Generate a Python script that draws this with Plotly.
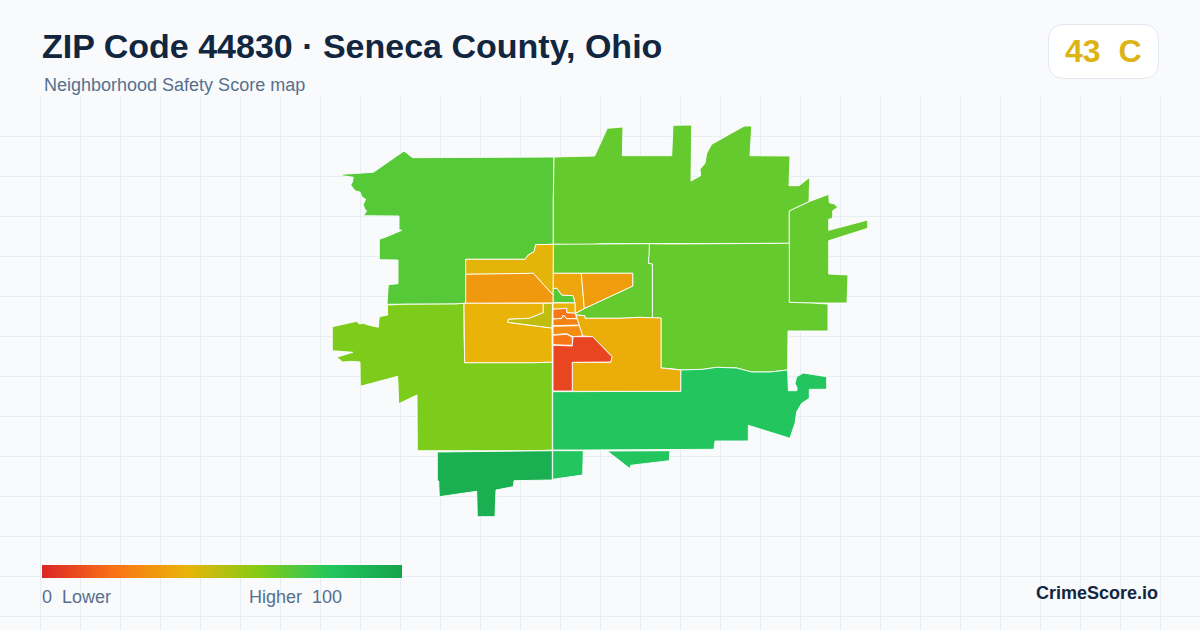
import plotly.graph_objects as go
from plotly.colors import sample_colorscale

TITLE = "ZIP Code 44830 · Seneca County, Ohio"
SUBTITLE = "Neighborhood Safety Score map"
GRADE_TEXT = "43\u00a0\u00a0C"
BRAND = "CrimeScore.io"
LEGEND_LOW = "0\u00a0\u00a0Lower"
LEGEND_HIGH = "Higher\u00a0\u00a0100"

COLOR_STOPS = [0, 0.2, 0.4, 0.6, 0.8, 1]
COLOR_VALUES = ["rgb(220,38,38)", "rgb(249,115,22)", "rgb(234,179,8)", "rgb(132,204,22)", "rgb(34,197,94)", "rgb(22,163,74)"]
LEGEND_RAMP = list(range(0, 101))

# Tract outlines in map units
NW = [(554,157),(416.7,157.3),(412.7,157.7),(404,151),(373.3,172.3),(342,174.3),(342.3,175.7),(353.3,177.3),(352.3,182.3),(350.7,185),(355,190.7),(360,192),(361.7,196.7),(365.7,199.3),(363.3,204.3),(364.3,208.3),(366.7,211),(363.3,215.7),(399,216),(399,229.7),(401.7,230.3),(386.7,236.7),(379.3,239.3),(379.3,259.7),(398,260),(398,283.7),(388.3,284.7),(387,304.3),(403.3,304.3),(455,304),(464,303.3),(465.7,303),(465.7,259.3),(525,259.3),(528.3,255),(534,251.7),(535.7,244.7),(553.3,244.3),(553.3,200)]
N = [(554,157),(594.7,156),(607.3,128.3),(623,127),(622.3,155.7),(671.7,155.7),(673,125.3),(691.7,125),(691,181),(700.7,175.7),(700,169.3),(705,163.3),(706.7,153.3),(711.7,144.3),(730,134),(744.3,126),(751.7,126),(750,155.7),(790,156),(789,185.7),(799,185.7),(809.7,177.3),(809,201.7),(789.3,211),(789.3,243.3),(671.7,244),(649.3,243.7),(601.7,243.7),(590,244.7),(553.3,244.3),(553.3,200)]
E = [(789.3,211),(809,201.7),(828.7,194.3),(829.3,202.7),(834.3,204),(837.7,207.3),(832.7,210.7),(832.7,218.3),(828.7,219.3),(828.7,230.3),(867.7,220),(867.7,228.3),(828.7,240.7),(828.7,274),(848,275),(847,303),(810.7,303),(789.3,302.3),(789.3,243.3)]
EC = [(649.3,243.7),(671.7,244),(789.3,243.3),(789.3,302.3),(810.7,303),(828,304),(828,331),(788,331),(787.7,370),(770,372),(751.7,372),(736.7,368),(716.7,367.3),(703.3,369.3),(680.7,370),(671.7,368.7),(661,368),(661,318),(652.3,318),(652.3,264),(648.3,263.3),(649,255)]
CN = [(553,244.3),(601.7,244),(649.3,243.7),(649,255),(648.3,263.3),(652.3,264),(652.3,318),(640,317.3),(620,318.3),(585,318.3),(584.7,315.7),(576.7,315),(575,313.7),(584.3,308.5),(632.7,286),(632.7,273.3),(553,273.3)]
A = [(553,273.3),(581.3,273.3),(584.3,308.5),(575,313.5),(575,303),(573.3,295.7),(561.7,295),(557,288.3),(553,288.3)]
NE_ORANGE = [(581.3,273.3),(632.7,273.3),(632.7,286),(584.3,308.5)]
SMALL_GREEN = [(553,302.5),(553,288.3),(557,288.3),(561.7,295),(573.3,295.7),(575,303)]
BAND = [(553,303),(575,303),(575,313.3),(566.7,312.7),(566.7,308.3),(553,309.3)]
H1 = [(553,309.3),(566.7,308.3),(566.7,312.7),(575,313.3),(576.7,318.3),(566.7,318.7),(563.3,315),(561.7,318.3),(553,318.7)]
H2 = [(553,319),(561.7,318.5),(563.3,315),(566.7,318.7),(577,318.7),(579.3,325),(553,325.7)]
H3 = [(553,326.3),(579.3,325.7),(582.7,336),(573,336.7),(566.7,333.7),(553,334.7)]
H4 = [(553,335.3),(566.7,334.3),(572.3,337.3),(572.3,345.3),(553,344.7)]
RED = [(553,345.3),(572.3,346),(573,336.7),(592.7,336.7),(612,356.7),(610.7,362),(572.3,362.3),(572.3,391),(553,391)]
Y_EAST = [(576.7,315),(584.7,315.7),(585,318.3),(620,318.3),(640,317.3),(661,318),(661,368),(671.7,368.7),(680.7,370),(680.7,391.3),(572.3,391.3),(572.3,362.5),(610.7,362.3),(612,356.7),(592.7,336.7),(582.7,336),(577,318.7)]
Y1 = [(465.7,259.3),(525,259.3),(528.3,255),(534,251.7),(535.7,244.7),(553.3,244.3),(553,295),(533.3,273.3),(500,274),(465.7,274.3)]
O_W = [(465.7,274.3),(500,274),(533.3,273.3),(553,295),(553,303),(465.7,303.3)]
Y_SW = [(464,303.3),(543.3,303.3),(543.3,312.7),(529.3,318.3),(508.3,319.3),(507.7,322.3),(521.7,324.3),(552,328),(552.3,362),(533.3,362.7),(464.7,362.7),(464,333.3)]
OLIVE = [(543.3,303.3),(552.5,303.3),(552,328),(521.7,324.3),(507.7,322.3),(508.3,319.3),(529.3,318.3),(543.3,312.7)]
SW = [(387.3,305),(403.3,304.3),(455,304),(464,303.3),(464,333.3),(464.7,362.7),(533.3,362.7),(552.3,362),(552.3,450),(538.3,450.7),(417.3,450.7),(417,395),(398.7,403.7),(397.7,376.3),(360.3,386.3),(360,362),(351.7,361.3),(342.7,362),(336.7,357.3),(352.7,352.3),(332.3,350.7),(332.3,326.7),(356.7,321.3),(359.3,324),(363.3,323.3),(368.3,325),(378.3,327.3),(379.3,316.7),(387.7,315)]
SSW = [(437.3,452),(538.3,451.3),(552.3,450.7),(552.3,480),(514,480.7),(513.3,486.7),(496,490),(495,516.7),(477.3,516.7),(476.7,491.3),(439.3,496.7),(438.7,481),(437.3,480.7)]
S = [(552.7,391.7),(680.7,391.3),(680.7,370),(703.3,369.3),(716.7,367.3),(736.7,368),(751.7,372),(770,372),(787.7,370),(788.3,390.7),(796.7,390.7),(797.3,388.3),(795,383.3),(796.7,376.7),(803.3,373),(826.7,376.7),(826.7,389.3),(809.3,389.3),(809.3,398.3),(801.7,403.3),(796.7,411.7),(795,423.3),(792.7,430),(790,438.3),(748.3,425.3),(748.3,441),(715,441),(714,449.3),(583.3,450),(552.7,450)]
S_BOX = [(552.7,450.7),(583.3,450.7),(582.7,475),(552.7,479.3)]
S_WEDGE = [(607.3,451),(670,450.7),(669.3,460.7),(630.7,465.3),(630,468.7)]

TRACTS = [NW, N, E, EC, SW, S, S_BOX, S_WEDGE, SSW, CN, SMALL_GREEN, A, NE_ORANGE, Y1, O_W, Y_SW, OLIVE, Y_EAST, BAND, H1, H2, H3, H4, RED]
SCORES = [69.5, 66.5, 66.5, 66.5, 61.5, 80, 80, 80, 93, 66.5, 69.5, 36, 33, 41, 32, 40, 48, 38, 40, 21, 25, 28, 21, 8]

COLORSCALE = [[s, c] for s, c in zip(COLOR_STOPS, COLOR_VALUES)]
INK = "#12263f"
MUTED = "#56708e"
BG = "#f8fafc"
GRID = "#e6eef3"
W, H = 1200, 630


def px(v):
    return v / W


def py(v):
    return 1 - v / H


fig = go.Figure()
for outline, score in zip(TRACTS, SCORES):
    xs = [p[0] for p in outline] + [outline[0][0]]
    ys = [p[1] for p in outline] + [outline[0][1]]
    fig.add_trace(go.Scatter(
        x=xs, y=ys, mode="lines", fill="toself",
        fillcolor=sample_colorscale(COLORSCALE, [score / 100])[0],
        line=dict(color="white", width=0.9),
        hoverinfo="skip", showlegend=False,
    ))

fig.add_trace(go.Heatmap(
    z=[LEGEND_RAMP], x=LEGEND_RAMP, y=[0], xaxis="x2", yaxis="y2",
    colorscale=COLORSCALE, zmin=0, zmax=100, zsmooth="best",
    showscale=False, hoverinfo="skip",
))


def note(text, x, y, size, color, anchor="left", bold=False):
    fig.add_annotation(
        text=f"<b>{text}</b>" if bold else text, xref="paper", yref="paper",
        x=px(x), y=py(y), xanchor=anchor, yanchor="middle", showarrow=False,
        font=dict(family="Liberation Sans", size=size, color=color),
    )


note(TITLE, 40, 46, 34, INK, bold=True)
note(SUBTITLE, 42, 85, 18, MUTED)
note(GRADE_TEXT, 1102.5, 51, 32, "#dcb414", anchor="center", bold=True)
note(LEGEND_LOW, 40, 597, 18, MUTED)
note(LEGEND_HIGH, 247, 597, 18, MUTED)
note(BRAND, 1160, 593, 18, INK, anchor="right", bold=True)

x0, x1, y0, y1, r = 1048.5, 1158.5, 24.5, 78.5, 16
bp = (f"M{px(x0+r)},{py(y0)} L{px(x1-r)},{py(y0)} Q{px(x1)},{py(y0)} {px(x1)},{py(y0+r)} "
      f"L{px(x1)},{py(y1-r)} Q{px(x1)},{py(y1)} {px(x1-r)},{py(y1)} "
      f"L{px(x0+r)},{py(y1)} Q{px(x0)},{py(y1)} {px(x0)},{py(y1-r)} "
      f"L{px(x0)},{py(y0+r)} Q{px(x0)},{py(y0)} {px(x0+r)},{py(y0)} Z")

fig.update_layout(
    width=W, height=H, margin=dict(l=0, r=0, t=0, b=0),
    autosize=False, paper_bgcolor=BG, plot_bgcolor=BG, showlegend=False,
    shapes=[dict(type="path", path=bp, xref="paper", yref="paper",
                 fillcolor="white", line=dict(color="#e2e8f0", width=1))],
    xaxis=dict(range=[0, W], domain=[0, 1], tick0=0, dtick=40, showgrid=True,
               gridcolor=GRID, gridwidth=1, zeroline=False, showticklabels=False,
               ticks="", showline=False, fixedrange=True),
    yaxis=dict(range=[H, 96], domain=[0, (H - 96) / H], tick0=96, dtick=40, showgrid=True,
               gridcolor=GRID, gridwidth=1, zeroline=False, showticklabels=False,
               ticks="", showline=False, fixedrange=True),
    xaxis2=dict(range=[0, 100], domain=[px(42), px(402)], anchor="y2", visible=False, fixedrange=True),
    yaxis2=dict(range=[-0.5, 0.5], domain=[py(578), py(565)], anchor="x2", visible=False, fixedrange=True),
)
fig.write_html("out.html", config=dict(displayModeBar=False),
               post_script="document.body.style.margin='0';document.documentElement.style.background='#f8fafc';")
